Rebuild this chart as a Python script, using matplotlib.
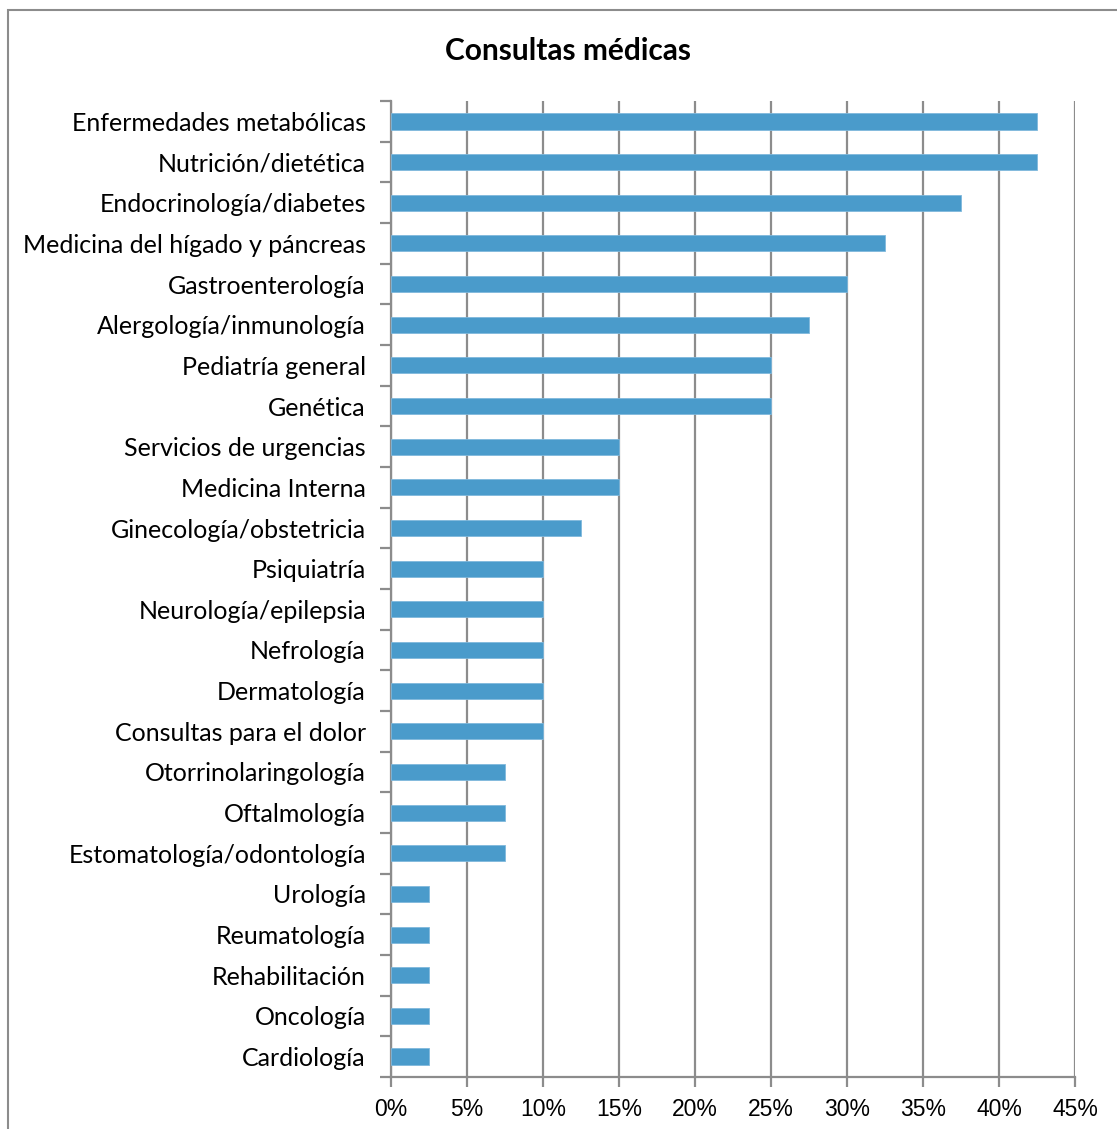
import numpy as np
import matplotlib.pyplot as plt
from matplotlib.patches import Rectangle
from matplotlib.ticker import FixedLocator, FuncFormatter

# Datos (porcentaje de consultas)
categorias = [
    "Enfermedades metabólicas",
    "Nutrición/dietética",
    "Endocrinología/diabetes",
    "Medicina del hígado y páncreas",
    "Gastroenterología",
    "Alergología/inmunología",
    "Pediatría general",
    "Genética",
    "Servicios de urgencias",
    "Medicina Interna",
    "Ginecología/obstetricia",
    "Psiquiatría",
    "Neurología/epilepsia",
    "Nefrología",
    "Dermatología",
    "Consultas para el dolor",
    "Otorrinolaringología",
    "Oftalmología",
    "Estomatología/odontología",
    "Urología",
    "Reumatología",
    "Rehabilitación",
    "Oncología",
    "Cardiología",
]
valores = [42.5, 42.5, 37.5, 32.5, 30.0, 27.5, 25.0, 25.0, 15.0, 15.0, 12.5,
           10.0, 10.0, 10.0, 10.0, 10.0, 7.5, 7.5, 7.5, 2.5, 2.5, 2.5, 2.5, 2.5]
ticks_x = [0, 5, 10, 15, 20, 25, 30, 35, 40, 45]

gris = "#8c8c8c"
azul = "#4a9bcb"

fig = plt.figure(figsize=(11.17, 11.29), dpi=100)
ax = fig.add_axes([0.350, 0.0461, 0.9624 - 0.350, 0.9105 - 0.0461])

# borde del gráfico
fig.patches.append(Rectangle((0.0072, -0.02), 1.02, 0.991 + 0.02,
                             transform=fig.transFigure, fill=False,
                             edgecolor=gris, linewidth=1.5))

n = len(categorias)
pos = np.arange(n)[::-1]
ax.barh(pos, valores, height=0.4, color=azul, edgecolor="#7fb8dc",
        linewidth=0.6, zorder=3)

ax.set_xlim(0, 45)
ax.set_ylim(-0.5, n - 0.5)

ax.set_xticks(ticks_x)
ax.xaxis.set_major_formatter(FuncFormatter(lambda v, p: f"{v:.0f}%"))
ax.grid(axis="x", color=gris, linewidth=1.6, zorder=0)
ax.tick_params(axis="x", length=7, width=1.6, color=gris, pad=8,
               labelsize=16.5)
for t in ax.get_xticklabels():
    t.set_fontfamily("Liberation Sans")

ax.set_yticks(pos)
ax.set_yticklabels(categorias, fontfamily="Lato", fontsize=18)
ax.tick_params(axis="y", which="major", length=0, pad=18)
ax.yaxis.set_minor_locator(FixedLocator(np.arange(-0.5, n, 1.0)))
ax.tick_params(axis="y", which="minor", length=8, width=1.6, color=gris)

for lado in ["top", "right"]:
    ax.spines[lado].set_visible(False)
for lado in ["left", "bottom"]:
    ax.spines[lado].set_color(gris)
    ax.spines[lado].set_linewidth(1.6)

fig.text(0.5085, 0.955, "Consultas médicas", ha="center", va="center",
         fontsize=21.5, fontweight="bold", fontfamily="Lato")

fig.savefig("out.png", dpi=100)
